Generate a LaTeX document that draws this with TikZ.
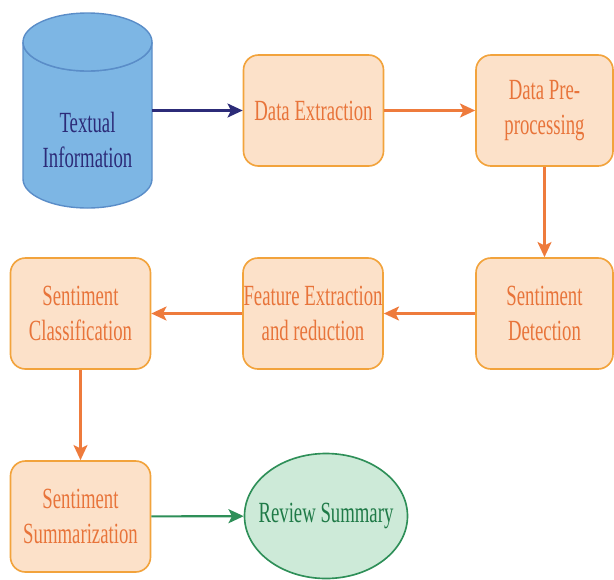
\documentclass[tikz,border=0pt]{standalone}
\usepackage{fontspec}
\setmainfont{Liberation Serif}[FakeStretch=0.64]
\usetikzlibrary{shapes.geometric,arrows.meta}

\definecolor{boxfill}{HTML}{FCE1C9}
\definecolor{boxline}{HTML}{F2A33C}
\definecolor{boxtext}{HTML}{E8743A}
\definecolor{flowline}{HTML}{EE7B3C}
\definecolor{dbfill}{HTML}{7DB6E4}
\definecolor{dbline}{HTML}{5A8DC8}
\definecolor{dbtext}{HTML}{2C2B78}
\definecolor{endfill}{HTML}{CDEAD8}
\definecolor{endline}{HTML}{2E8F58}
\definecolor{endtext}{HTML}{1F7A47}

\tikzset{
  label text/.style={align=center,font=\fontsize{25}{30}\selectfont},
  stage/.style={label text,draw=boxline,fill=boxfill,text=boxtext,line width=1.4pt,
    rounded corners=0.45cm,minimum width=4.2cm,minimum height=3.33cm,inner sep=0pt},
  flow/.style={draw=flowline,line width=1.8pt,
    -{Stealth[length=13pt,width=12pt,inset=3pt]}},
}

\begin{document}
\begin{tikzpicture}[x=0.03cm,y=-0.03cm]
\useasboundingbox (0,0) rectangle (614,579);

% source cylinder
\node[minimum width=3.87cm,minimum height=5.85cm,inner sep=0pt] (src) at (87.5,110.5) {};
\draw[dbline,fill=dbfill,line width=1.2pt]
  (23,42) -- (23,179) arc[start angle=180,end angle=0,x radius=64.5,y radius=29]
  -- (152,42) arc[start angle=0,end angle=180,x radius=64.5,y radius=29] -- cycle;
\draw[dbline,fill=dbfill,line width=1.2pt] (87.5,42) ellipse[x radius=64.5,y radius=29];
\node[label text,text=dbtext] (srctext) at (87.5,140) {Textual\\Information};

% first row
\node[stage] (extract) at (313.5,110.5) {Data Extraction};
\node[stage,minimum width=4.11cm] (prep) at (544.5,110.5) {Data Pre-\\processing};

% second row
\node[stage,minimum width=4.11cm] (detect) at (544.5,313.5) {Sentiment\\Detection};
\node[stage] (feature) at (313,313.5) {Feature Extraction\\and reduction};
\node[stage] (classify) at (80.5,313.5) {Sentiment\\Classification};

% last row
\node[stage] (summar) at (80.5,516.5) {Sentiment\\Summarization};
\node[label text,ellipse,draw=endline,fill=endfill,text=endtext,line width=1.4pt,
  minimum width=4.89cm,minimum height=3.75cm,inner sep=0pt] (review) at (326,516)
  {\makebox[0pt]{Review Summary}};

\draw[flow,draw=dbtext] (src) -- (extract);
\draw[flow] (extract) -- (prep);
\draw[flow] (prep) -- (detect);
\draw[flow] (detect) -- (feature);
\draw[flow] (feature) -- (classify);
\draw[flow] (classify) -- (summar);
\draw[flow,draw=endline] (summar) -- (review);
\end{tikzpicture}
\end{document}
